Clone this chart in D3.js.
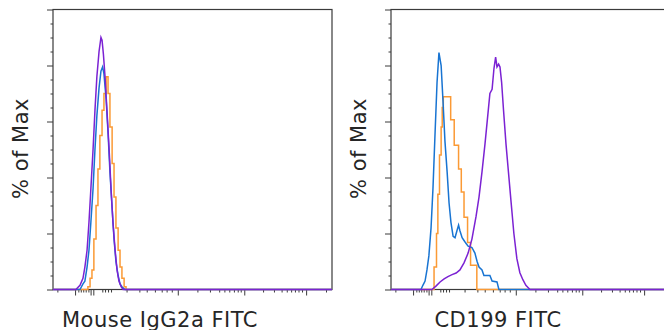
<!DOCTYPE html>
<html lang="en">
<head>
  <meta charset="UTF-8">
  <title>CD199 FITC histograms</title>
  <script src="https://d3js.org/d3.v7.min.js"></script>
  <style>
    body { margin: 0; background: #fff; }
    svg { display: block; }
    .lbl { font-family: 'DejaVu Sans', Verdana, sans-serif; font-size: 21px; fill: #262626; letter-spacing: 0.5px; }
    .ax path { display: none; }
    .ax line { stroke: #3a3a3a; stroke-width: 1; }
  </style>
</head>
<body>
<div id="chart"></div>
<script>
  // x in display channels (0-1024, biexponential scale), y in % of max
  const xMajorTicks = [81, 138, 148, 458, 702, 929];
  const xMinorTicks = [16, 93, 102, 111, 120, 130, 181, 191, 202, 213, 270, 317, 344, 374, 399, 417, 436,
                       530, 576, 610, 629, 647, 664, 678, 689, 771, 811, 839, 858, 874, 888, 901, 914, 1002];
  const yMajorTicks = [0, 20, 40, 60, 80, 100];
  const yMinorTicks = d3.range(5, 100, 5).filter(v => v % 20 !== 0);

  const panelTitles = ['Mouse IgG2a FITC', 'CD199 FITC'];

  // left panel (isotype)
  const isoOrange = [[0,0],[121,0],[128,1],[136,4],[143,7],[150,18],[158,30],[165,43],[172,55],[180,64],[187,70],
    [195,76],[202,70],[209,58],[217,45],[224,33],[231,22],[239,14],[246,8],[253,4],[261,1],[268,0],[1024,0]];
  const isoBlue = [[0,0],[99,0],[110,2],[117,3],[125,8],[132,14],[139,24],[147,36],[154,50],[161,62],[169,72],
    [176,78],[182,79.5],[187,77],[195,68],[202,56],[209,42],[217,29],[224,18],[231,10],[239,5],[246,2],[253,1],
    [264,0],[1024,0]];
  const isoPurple = [[0,0],[84,0],[99,1.5],[110,4],[117,8],[125,14],[132,24],[139,36],[147,50],[154,64],[161,76],
    [169,85],[176,90],[180,89],[185,84],[191,76],[198,64],[206,50],[213,36],[220,24],[228,14],[235,7],[242,3],
    [250,1],[257,0],[1024,0]];

  // right panel (CD199)
  const cdOrange = [[0,0],[150,0],[158,8],[167,20],[172,34],[178,48],[184,58],[188,65],[192,68.8],[219,60.6],
    [232,51.5],[248,43],[258,34.8],[268,25.8],[281,16.8],[292,8.7],[315,0],[1024,0]];
  const cdBlue = [[0,0],[110,0],[117,1.5],[125,3],[132,7],[139,12],[147,22],[154,36],[161,54],[169,74],[176,84.6],
    [184,80],[191,67],[198,53],[206,42],[213,31],[220,24],[228,19],[235,18.5],[242,21],[248,23],[253,21],
    [261,18.5],[268,17.5],[275,16.5],[283,15.5],[297,15],[308,13],[316,10],[323,8],[334,7],[341,5],[363,5],
    [371,3],[389,2.7],[396,0],[1024,0]];
  const cdPurple = [[0,0],[150,0],[165,1.2],[180,2.7],[195,3.8],[209,4.6],[224,5.3],[239,5.9],[253,7],[268,9.5],
    [283,13],[297,18],[312,26],[323,33],[334,42],[345,52],[356,63],[363,70],[371,71.5],[378,79],[384,83],
    [389,79.5],[395,80.5],[400,79.5],[406,74],[413,64],[422,52],[431,42],[440,32],[451,20],[462,11],[473,6],
    [484,3.5],[495,1.5],[510,0],[1024,0]];

  const panels = [
    { left: 53, title: panelTitles[0], orange: isoOrange, blue: isoBlue, purple: isoPurple },
    { left: 391, title: panelTitles[1], orange: cdOrange, blue: cdBlue, purple: cdPurple }
  ];

  const W = 664, H = 330;
  const plotTop = 9.5, width = 279, height = 280;

  const x = d3.scaleLinear().domain([0, 1024]).range([0, width]);
  const y = d3.scaleLinear().domain([0, 100]).range([height, 0]);

  const svg = d3.select('#chart').append('svg')
    .attr('width', W)
    .attr('height', H);

  const line = d3.line().x(d => x(d[0])).y(d => y(d[1]));
  const stepLine = d3.line().x(d => x(d[0])).y(d => y(d[1])).curve(d3.curveStepAfter);

  panels.forEach(p => {
    const g = svg.append('g').attr('transform', 'translate(' + p.left + ',' + plotTop + ')');

    g.append('g').attr('class', 'ax')
      .call(d3.axisLeft(y).tickValues(yMajorTicks).tickSize(6).tickFormat(''));
    g.append('g').attr('class', 'ax')
      .call(d3.axisLeft(y).tickValues(yMinorTicks).tickSize(2.5).tickFormat(''));
    g.append('g').attr('class', 'ax')
      .attr('transform', 'translate(0,' + height + ')')
      .call(d3.axisBottom(x).tickValues(xMajorTicks).tickSize(6).tickFormat(''));
    g.append('g').attr('class', 'ax')
      .attr('transform', 'translate(0,' + height + ')')
      .call(d3.axisBottom(x).tickValues(xMinorTicks).tickSize(3).tickFormat(''));

    g.append('rect')
      .attr('width', width)
      .attr('height', height)
      .attr('fill', 'none')
      .attr('stroke', '#3a3a3a')
      .attr('stroke-width', 1.2);

    g.append('path').datum(p.orange)
      .attr('d', stepLine)
      .attr('fill', 'none').attr('stroke', '#fb9a35').attr('stroke-width', 1.5);
    g.append('path').datum(p.blue)
      .attr('d', line)
      .attr('fill', 'none').attr('stroke', '#1874d2').attr('stroke-width', 1.5);
    g.append('path').datum(p.purple)
      .attr('d', line)
      .attr('fill', 'none').attr('stroke', '#7b22d3').attr('stroke-width', 1.5);

    g.append('text')
      .attr('class', 'lbl')
      .attr('text-anchor', 'middle')
      .attr('x', 107)
      .attr('y', 317)
      .text(p.title);

    g.append('text')
      .attr('class', 'lbl')
      .attr('text-anchor', 'middle')
      .attr('transform', 'translate(-25,139) rotate(-90)')
      .text('% of Max');
  });
</script>
</body>
</html>
